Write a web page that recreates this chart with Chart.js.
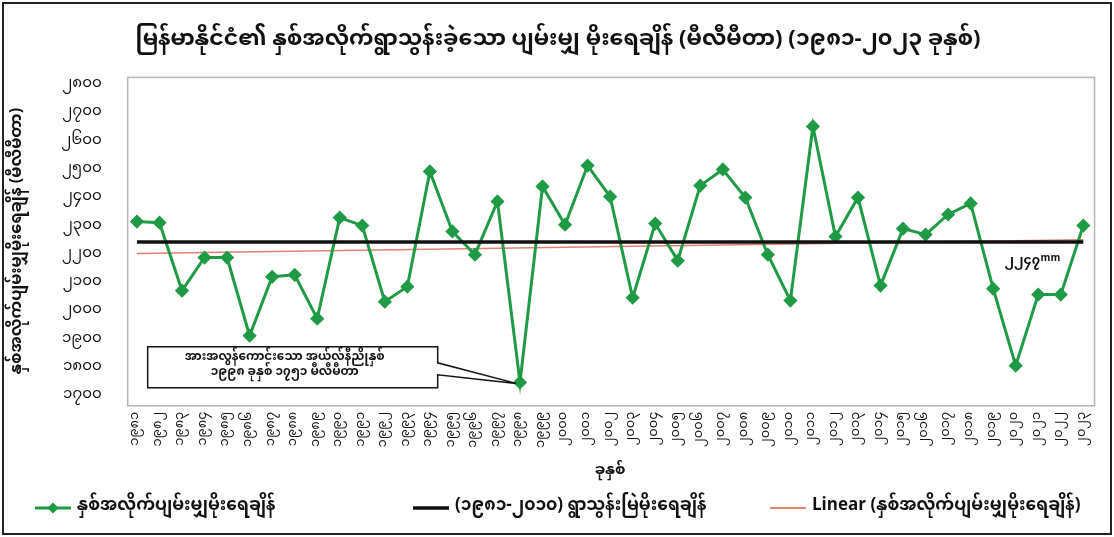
<!DOCTYPE html>
<html>
<head>
<meta charset="utf-8">
<script src="https://cdn.jsdelivr.net/npm/chart.js@4.4.1/dist/chart.umd.min.js"></script>
<style>
  html, body { margin: 0; padding: 0; background: #fff; }
  #wrap { position: relative; width: 1114px; height: 537px; }
</style>
</head>
<body>
<div id="wrap"><canvas id="rainChart"></canvas></div>
<script>
// ခုနှစ် (1981 - 2023)
const years = ['၁၉၈၁','၁၉၈၂','၁၉၈၃','၁၉၈၄','၁၉၈၅','၁၉၈၆','၁၉၈၇','၁၉၈၈','၁၉၈၉','၁၉၉၀',
  '၁၉၉၁','၁၉၉၂','၁၉၉၃','၁၉၉၄','၁၉၉၅','၁၉၉၆','၁၉၉၇','၁၉၉၈','၁၉၉၉','၂၀၀၀',
  '၂၀၀၁','၂၀၀၂','၂၀၀၃','၂၀၀၄','၂၀၀၅','၂၀၀၆','၂၀၀၇','၂၀၀၈','၂၀၀၉','၂၀၁၀',
  '၂၀၁၁','၂၀၁၂','၂၀၁၃','၂၀၁၄','၂၀၁၅','၂၀၁၆','၂၀၁၇','၂၀၁၈','၂၀၁၉','၂၀၂၀',
  '၂၀၂၁','၂၀၂၂','၂၀၂၃'];

// နှစ်အလိုက်ပျမ်းမျှမိုးရေချိန် (mm)
const rainfall = [2319, 2315, 2075, 2192, 2192, 1916, 2124, 2131, 1976, 2333,
  2305, 2036, 2089, 2496, 2284, 2202, 2390, 1751, 2443, 2308,
  2517, 2407, 2050, 2312, 2181, 2446, 2503, 2404, 2202, 2040,
  2655, 2266, 2404, 2093, 2294, 2273, 2344, 2383, 2082, 1810,
  2061, 2061, 2305];

// (၁၉၈၁-၂၀၁၀) normal, start / end
const normalEnds = [2247, 2247];
// linear trend, start / end
const trendEnds = [2206, 2255];

const yTicks = [1700, 1800, 1900, 2000, 2100, 2200, 2300, 2400, 2500, 2600, 2700, 2800];

const seriesNames = ['နှစ်အလိုက်ပျမ်းမျှမိုးရေချိန်', '(၁၉၈၁-၂၀၁၀) ရွာသွန်းမြဲမိုးရေချိန်', 'Linear (နှစ်အလိုက်ပျမ်းမျှမိုးရေချိန်)'];
const titleText = 'မြန်မာနိုင်ငံ၏ နှစ်အလိုက်ရွာသွန်းခဲ့သော ပျမ်းမျှ မိုးရေချိန် (မီလီမီတာ) (၁၉၈၁-၂၀၂၃ ခုနှစ်)';
const noteLines = ['အားအလွန်ကောင်းသော အယ်လ်နီညိုနှစ်', '၁၉၉၈ ခုနှစ် ၁၇၅၁ မီလီမီတာ'];
const normalLabel = '၂၂၄၇';

const FONT = '"Noto Sans Myanmar", "Padauk", "Myanmar Text", "Noto Sans", "DejaVu Sans", sans-serif';
const GREEN = '#1f9a45';
const RED = '#e08270';
const lineColors = [GREEN, '#111', RED];

const mmDigits = '၀၁၂၃၄၅၆၇၈၉';
function toMM(n) {
  return String(n).replace(/[0-9]/g, d => mmDigits[d]);
}

// boxes, callout, mean label, legend
const extras = {
  id: 'extras',
  beforeDraw(chart) {
    const { ctx, chartArea: a } = chart;
    ctx.save();
    ctx.strokeStyle = '#222';
    ctx.lineWidth = 2;
    ctx.strokeRect(3, 3, chart.width - 6, chart.height - 6);
    ctx.strokeStyle = '#b5b5b5';
    ctx.lineWidth = 1.5;
    ctx.strokeRect(a.left + 2, a.top - 8, a.right - a.left - 2, a.bottom - a.top + 17);
    ctx.restore();
  },
  afterDatasetsDraw(chart) {
    const { ctx, chartArea: a, scales } = chart;
    const ys = scales.y, xs = scales.x;
    ctx.save();
    // mean label
    const ly = ys.getPixelForValue(normalEnds[1]) + 21;
    ctx.fillStyle = '#111';
    ctx.textAlign = 'left';
    ctx.textBaseline = 'middle';
    ctx.font = 'bold 13px ' + FONT;
    ctx.fillText(normalLabel, a.right - 90, ly);
    ctx.font = 'bold 10px ' + FONT;
    ctx.fillText('mm', a.right - 54, ly - 3);

    // callout for the 1998 minimum
    const idx = rainfall.indexOf(Math.min(...rainfall));
    const px = xs.getPixelForValue(idx), py = ys.getPixelForValue(rainfall[idx]);
    const x0 = a.left + 22, x1 = a.left + 312, y0 = a.bottom - 50, y1 = a.bottom - 9;
    ctx.beginPath();
    ctx.moveTo(x0, y0);
    ctx.lineTo(x1, y0);
    ctx.lineTo(x1, y0 + 16);
    ctx.lineTo(px - 4, py + 1);
    ctx.lineTo(x1, y0 + 28);
    ctx.lineTo(x1, y1);
    ctx.lineTo(x0, y1);
    ctx.closePath();
    ctx.fillStyle = '#fff';
    ctx.fill();
    ctx.strokeStyle = '#111';
    ctx.lineWidth = 1.5;
    ctx.stroke();
    ctx.fillStyle = '#111';
    ctx.font = 'bold 12px ' + FONT;
    ctx.textAlign = 'center';
    ctx.fillText(noteLines[0], (x0 + x1) / 2 - 8, y0 + 12);
    ctx.fillText(noteLines[1], (x0 + x1) / 2 - 8, y0 + 27);
    ctx.restore();
  },
  afterDraw(chart) {
    // legend, spread like the original
    const { ctx } = chart;
    const ly = chart.height - 29;
    const starts = [35, 413, 770];
    ctx.save();
    ctx.textBaseline = 'middle';
    ctx.textAlign = 'left';
    ctx.font = 'bold 17px ' + FONT;
    starts.forEach((x, i) => {
      ctx.strokeStyle = lineColors[i];
      ctx.lineWidth = [3, 3.5, 2][i];
      ctx.beginPath(); ctx.moveTo(x, ly); ctx.lineTo(x + 36, ly); ctx.stroke();
      if (i === 0) {
        ctx.fillStyle = GREEN;
        ctx.beginPath();
        ctx.moveTo(x + 18, ly - 5.5); ctx.lineTo(x + 23.5, ly); ctx.lineTo(x + 18, ly + 5.5); ctx.lineTo(x + 12.5, ly);
        ctx.closePath(); ctx.fill();
      }
      ctx.fillStyle = '#111';
      ctx.fillText(seriesNames[i], x + 42, ly);
    });
    ctx.restore();
  }
};

const ctx = document.getElementById('rainChart').getContext('2d');
new Chart(ctx, {
  type: 'line',
  data: {
    labels: years,
    datasets: [{
      label: seriesNames[0],
      data: rainfall,
      borderColor: GREEN,
      backgroundColor: GREEN,
      borderWidth: 3,
      pointStyle: 'rectRot',
      pointRadius: 5,
      pointHoverRadius: 5,
      tension: 0,
      order: 1
    }, {
      label: seriesNames[1],
      data: [{ x: years[0], y: normalEnds[0] }, { x: years[years.length - 1], y: normalEnds[1] }],
      borderColor: '#111',
      backgroundColor: '#111',
      borderWidth: 3.5,
      pointRadius: 0,
      order: 0
    }, {
      label: seriesNames[2],
      data: [{ x: years[0], y: trendEnds[0] }, { x: years[years.length - 1], y: trendEnds[1] }],
      borderColor: RED,
      backgroundColor: RED,
      borderWidth: 1.5,
      pointRadius: 0,
      order: 2
    }]
  },
  options: {
    responsive: true,
    maintainAspectRatio: false,
    animation: false,
    layout: { padding: { left: 10, right: 8, top: 4, bottom: 56 } },
    scales: {
      x: {
        offset: true,
        grid: { display: false, drawTicks: false },
        border: { display: false },
        ticks: {
          color: '#111',
          font: { family: FONT, size: 13 },
          minRotation: 90,
          maxRotation: 90,
          autoSkip: false,
          padding: 15
        },
        title: {
          display: true,
          text: 'ခုနှစ်',
          color: '#111',
          font: { family: FONT, size: 15, weight: 'bold' },
          padding: { top: 0, bottom: 0 }
        }
      },
      y: {
        min: yTicks[0],
        max: yTicks[yTicks.length - 1],
        grid: { display: false, drawTicks: false },
        border: { display: false },
        afterBuildTicks: axis => { axis.ticks = yTicks.map(v => ({ value: v })); },
        ticks: {
          color: '#111',
          font: { family: FONT, size: 15 },
          padding: 24,
          callback: v => toMM(v)
        },
        title: {
          display: true,
          text: 'နှစ်အလိုက်ပျမ်းမျှမိုးရေချိန် (မီလီမီတာ)',
          color: '#111',
          font: { family: FONT, size: 16, weight: 'bold' },
          padding: { top: 0, bottom: 8 }
        }
      }
    },
    plugins: {
      title: {
        display: true,
        text: titleText,
        color: '#111',
        font: { family: FONT, size: 22, weight: 'bold' },
        padding: { top: 25, bottom: 30 }
      },
      legend: { display: false },
      tooltip: { enabled: false }
    }
  },
  plugins: [extras]
});
</script>
</body>
</html>
